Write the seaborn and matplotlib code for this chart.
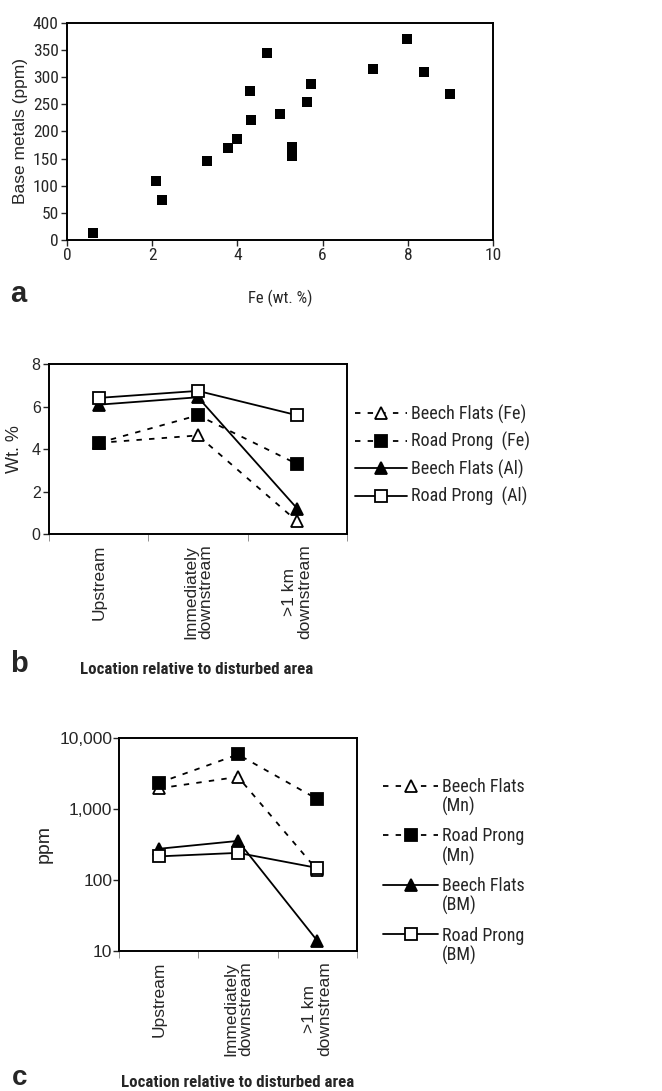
import matplotlib
matplotlib.use("Agg")
import matplotlib.pyplot as plt
import seaborn as sns
import pandas as pd

# panel a: Fe vs base metals
fe_wt = [0.61, 2.08, 2.24, 3.29, 3.79, 3.98, 4.29, 4.32, 4.69, 5.0,
         5.29, 5.29, 5.63, 5.73, 7.19, 7.99, 8.38, 8.98]
base_metals = [13, 109, 73, 145, 170, 186, 274, 221, 345, 232,
               172, 154, 255, 287, 315, 371, 309, 269]

# panels b and c: by location
locations = ["Upstream", "Immediately\ndownstream", ">1 km\ndownstream"]
bf_fe = [4.3, 4.65, 0.6]
rp_fe = [4.3, 5.6, 3.3]
bf_al = [6.1, 6.45, 1.2]
rp_al = [6.42, 6.75, 5.6]

bf_mn = [1950, 2830, 138]
rp_mn = [2330, 5850, 1380]
bf_bm = [275, 355, 14]
rp_bm = [215, 241, 148]

labels_b = ["Beech Flats (Fe)", "Road Prong  (Fe)", "Beech Flats (Al)", "Road Prong  (Al)"]
labels_c = ["Beech Flats", "Road Prong", "Beech Flats", "Road Prong"]
labels_c2 = ["(Mn)", "(Mn)", "(BM)", "(BM)"]

sns.set_style("ticks")
REG = ["Liberation Sans", "DejaVu Sans"]
NAR = ["Roboto Condensed", "Liberation Sans", "DejaVu Sans"]
plt.rcParams["font.family"] = REG
plt.rcParams["axes.linewidth"] = 1.4
plt.rcParams["xtick.major.width"] = 1.0
plt.rcParams["ytick.major.width"] = 1.0

dotted = (0, (3, 4))
# style per series: (linestyle, marker, facecolor)
styles = [
    (dotted, "^", "white"),
    (dotted, "s", "black"),
    ("-", "^", "black"),
    ("-", "s", "white"),
]

fig = plt.figure(figsize=(6.62, 10.91), dpi=100)


def box(ax):
    for s in ax.spines.values():
        s.set_visible(True)
        s.set_color("black")


def tick_font(ax, fam, size):
    for t in ax.get_xticklabels() + ax.get_yticklabels():
        t.set_family(fam)
        t.set_fontsize(size)


#  Panel a
ax_a = fig.add_axes([0.101, 0.780, 0.644, 0.199])
df_a = pd.DataFrame({"fe": fe_wt, "bm": base_metals})
sns.scatterplot(data=df_a, x="fe", y="bm", ax=ax_a, marker="s", s=62,
                color="black", edgecolor="black", linewidth=0)
ax_a.set_xlim(0, 10)
ax_a.set_ylim(0, 400)
ax_a.set_xticks(range(0, 11, 2))
ax_a.set_yticks(range(0, 401, 50))
ax_a.set_xlabel("Fe (wt. %)", fontsize=12, family=NAR)
ax_a.xaxis.set_label_coords(0.5, -0.23)
ax_a.xaxis.label.set_va("top")
ax_a.set_ylabel("Base metals (ppm)", fontsize=12.5, labelpad=3)
ax_a.tick_params(length=4, pad=2)
tick_font(ax_a, NAR, 12.5)
box(ax_a)
fig.text(0.015, 0.723, "a", fontsize=21, fontweight="bold")


def location_panel(ax, series, labels, fs):
    for vals, lab, (ls, mk, fc) in zip(series, labels, styles):
        df = pd.DataFrame({"loc": locations, "v": vals})
        sns.lineplot(data=df, x="loc", y="v", ax=ax, color="black", lw=1.3,
                     linestyle=ls, marker=mk, markersize=8, markerfacecolor=fc,
                     markeredgecolor="black", markeredgewidth=1.3, label=lab,
                     sort=False)
    ax.set_xlim(-0.5, 2.5)
    ax.set_xticks(range(len(locations)))
    ax.set_xticklabels(locations, rotation=90, fontsize=fs, va="top",
                       linespacing=1.0)
    ax.set_xticks([-0.5, 0.5, 1.5, 2.5], minor=True)
    ax.tick_params(axis="x", which="major", length=0, pad=7.5)
    ax.tick_params(axis="x", which="minor", length=5, width=0.6, color="gray")
    ax.tick_params(axis="y", length=4, pad=2)
    ax.set_xlabel("Location relative to disturbed area", fontsize=12.2,
                  fontweight="bold", family=NAR)
    ax.xaxis.label.set_va("top")
    box(ax)


def make_legend(ax, xy, spacing, hl):
    handles, labs = ax.get_legend_handles_labels()
    return ax.legend(handles, labs, loc="upper left", bbox_to_anchor=xy,
                     bbox_transform=fig.transFigure, frameon=False,
                     prop={"family": NAR, "size": 13},
                     handlelength=hl, handletextpad=0.22, labelspacing=spacing,
                     borderaxespad=0, borderpad=0)


#  Panel b
ax_b = fig.add_axes([0.074, 0.5105, 0.450, 0.1555])
location_panel(ax_b, [bf_fe, rp_fe, bf_al, rp_al], labels_b, 12.5)
ax_b.set_ylim(0, 8)
ax_b.set_yticks(range(0, 9, 2))
tick_font(ax_b, REG, 11.5)
for t in ax_b.get_xticklabels():
    t.set_fontsize(12.5)
ax_b.set_ylabel("Wt. %", fontsize=13, labelpad=6)
ax_b.xaxis.set_label_coords(0.497, -0.756)
make_legend(ax_b, (0.536, 0.629), 0.46, 2.9)
fig.text(0.015, 0.384, "b", fontsize=21, fontweight="bold")

#  Panel c
ax_c = fig.add_axes([0.180, 0.1283, 0.359, 0.1953])
location_panel(ax_c, [bf_mn, rp_mn, bf_bm, rp_bm], labels_c, 12.5)
ax_c.set_yscale("log")
ax_c.set_ylim(10, 10000)
ax_c.set_yticks([10, 100, 1000, 10000])
ax_c.set_yticklabels(["10", "100", "1,000", "10,000"])
ax_c.yaxis.set_minor_locator(matplotlib.ticker.NullLocator())
ax_c.tick_params(axis="y", pad=1)
tick_font(ax_c, REG, 12.5)
ax_c.set_ylabel("ppm", fontsize=14, labelpad=5)
ax_c.xaxis.set_label_coords(0.498, -0.582)
leg_c = make_legend(ax_c, (0.5785, 0.287), 1.75, 3.05)
fig.text(0.018, 0.0055, "c", fontsize=20, fontweight="bold")

# second line of each panel c legend label, under the first
fig.canvas.draw()
inv = fig.transFigure.inverted()
for txt, extra in zip(leg_c.get_texts(), labels_c2):
    bb = txt.get_window_extent()
    x0, y0 = inv.transform((bb.x0, bb.y0))
    fig.text(x0, y0 - 0.001, extra, family=NAR, fontsize=13, va="top")

fig.savefig("out.png", dpi=100)
